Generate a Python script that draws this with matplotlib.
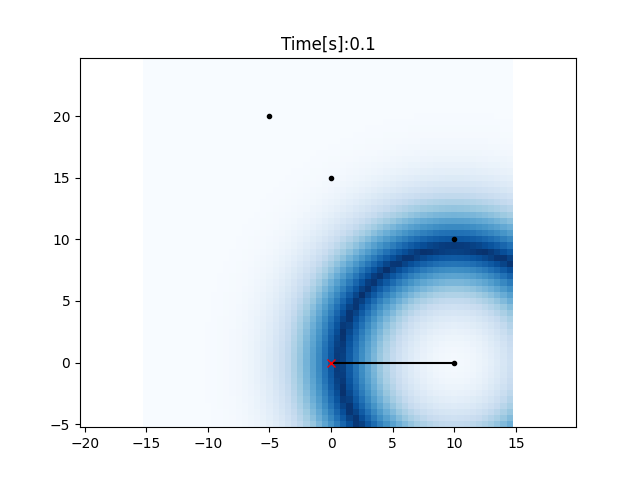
"""Histogram filter localization snapshot: range likelihood heat map."""

import math

import matplotlib

matplotlib.use("Agg")
import matplotlib.pyplot as plt
import numpy as np

# grid map settings
min_x, max_x = -15.0, 15.0
min_y, max_y = -5.0, 25.0
xy_resolution = 0.5

# RF ID landmark positions [x, y]
landmark_x = [10.0, 10.0, 0.0, -5.0]
landmark_y = [0.0, 10.0, 15.0, 20.0]

# robot true position and the one observation it made
robot_x, robot_y = 0.0, 0.0
observed_range = 9.3
observed_landmark = 0
range_std = 3.8
time_s = 0.1


def _norm_cdf(value, std):
    return 0.5 * (1.0 + math.erf(value / (std * math.sqrt(2.0))))


def calc_likelihood_map():
    x_w = int(round((max_x - min_x) / xy_resolution))
    y_w = int(round((max_y - min_y) / xy_resolution))
    data = np.ones((x_w, y_w))
    lx = landmark_x[observed_landmark]
    ly = landmark_y[observed_landmark]
    for ix in range(x_w):
        for iy in range(y_w):
            x = ix * xy_resolution + min_x
            y = iy * xy_resolution + min_y
            d = math.hypot(x - lx, y - ly)
            data[ix][iy] *= 1.0 - _norm_cdf(abs(d - observed_range), range_std)
    return data / data.sum()


def calc_grid_index():
    mx, my = np.mgrid[
        slice(min_x - xy_resolution / 2.0, max_x + xy_resolution / 2.0, xy_resolution),
        slice(min_y - xy_resolution / 2.0, max_y + xy_resolution / 2.0, xy_resolution),
    ]
    return mx, my


data = calc_likelihood_map()
mx, my = calc_grid_index()

fig = plt.figure(figsize=(6.4, 4.8), dpi=100)
plt.grid(False)
plt.pcolormesh(mx, my, data, vmax=data.max(), cmap="Blues", shading="flat")
plt.axis("equal")
plt.plot(
    [robot_x, landmark_x[observed_landmark]],
    [robot_y, landmark_y[observed_landmark]],
    "-k",
)
plt.plot(landmark_x, landmark_y, ".k")
plt.plot(robot_x, robot_y, "xr")
plt.title("Time[s]:" + str(time_s)[0:4])
fig.savefig("out.png", dpi=100)
